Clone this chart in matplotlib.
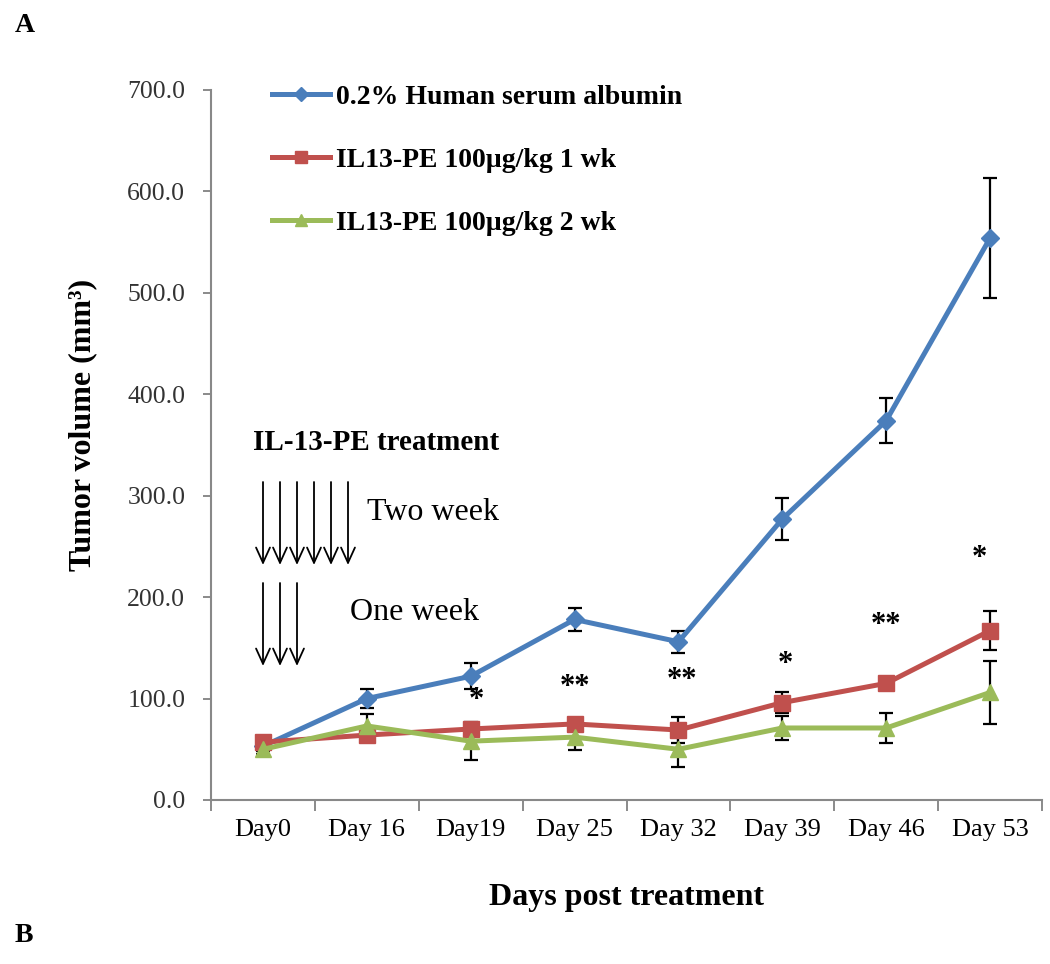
import matplotlib
matplotlib.use("Agg")
import matplotlib.pyplot as plt
import numpy as np

plt.rcParams['font.family'] = ['Liberation Serif', 'DejaVu Serif']

categories = ["Day0", "Day 16", "Day19", "Day 25", "Day 32", "Day 39", "Day 46", "Day 53"]
yticks = [0, 100, 200, 300, 400, 500, 600, 700]

hsa_mean = [53, 100, 122, 178, 156, 277, 374, 554]
hsa_err = [5, 9, 13, 11, 11, 21, 22, 59]
wk1_mean = [57, 64, 70, 75, 69, 96, 115, 167]
wk1_err = [5, 5, 5, 5, 13, 10, 5, 19]
wk2_mean = [50, 73, 58, 62, 50, 71, 71, 106]
wk2_err = [5, 12, 19, 13, 17, 12, 15, 31]

series_labels = ["0.2% Human serum albumin", "IL13-PE 100\u00b5g/kg 1 wk", "IL13-PE 100\u00b5g/kg 2 wk"]
colors = ["#4A7EBB", "#C0504D", "#9BBB59"]
markers = ["D", "s", "^"]

sig_labels = ["", "", "*", "**", "**", "*", "**", "*"]
sig_y = [0, 0, 98, 111, 118, 134, 172, 238]
sig_dx = [0, 0, 0.05, 0.0, 0.03, 0.03, 0.0, -0.1]

fig = plt.figure(figsize=(10.5, 9.64), dpi=100)
ax = fig.add_axes([211/1050, 1-800/964, 831/1050, 710/964])

x = np.arange(len(categories))
for means, errs, c, m, lab, ms in zip([hsa_mean, wk1_mean, wk2_mean],
                                      [hsa_err, wk1_err, wk2_err],
                                      colors, markers, series_labels, [9, 11, 11]):
    ax.errorbar(x, means, yerr=errs, fmt='none', ecolor='black', elinewidth=1.6,
                capsize=5, capthick=1.6, zorder=2)
    ax.plot(x, means, color=c, lw=3.6, marker=m, markersize=ms, label=lab, zorder=3)

for i, (s, yv, dx) in enumerate(zip(sig_labels, sig_y, sig_dx)):
    if s:
        ax.text(i + dx, yv, s, ha='center', va='center', fontsize=22, fontweight='bold')

ax.set_xlim(-0.5, len(categories) - 0.5)
ax.set_ylim(0, 700)
ax.set_yticks(yticks)
ax.set_yticklabels([f"{v:.1f}" for v in yticks], fontsize=18.5, color='#333333')
ax.set_xticks(x)
ax.set_xticklabels(categories, fontsize=19)
ax.set_xticks(np.arange(len(categories) + 1) - 0.5, minor=True)
ax.tick_params(axis='x', which='major', length=0, pad=14)
ax.tick_params(axis='x', which='minor', length=8, color='#777777', width=1.2)
ax.tick_params(axis='y', which='major', length=6, color='#777777', width=1.2, pad=12.5)

for sp in ['top', 'right']:
    ax.spines[sp].set_visible(False)
for sp in ['left', 'bottom']:
    ax.spines[sp].set_color('#888888')
    ax.spines[sp].set_linewidth(1.5)

ax.set_ylabel("Tumor volume (mm\u00b3)", fontsize=23, fontweight='bold')
ax.yaxis.set_label_coords(-(211 - 97) / 831, (800 - 425) / 710)
ax.set_xlabel("Days post treatment", fontsize=23, fontweight='bold', labelpad=30)

leg = ax.legend(loc='upper left', bbox_to_anchor=(36/831, 1.043), frameon=False,
                prop={'size': 20, 'weight': 'bold'}, handlelength=2.1,
                handletextpad=0.2, labelspacing=1.35, markerscale=0.75)

# treatment annotation
def ax_x(px):
    return (px - 211) / 831

def ax_y(py):
    return (800 - py) / 710

ax.text(ax_x(253), ax_y(443), "IL-13-PE treatment", transform=ax.transAxes,
        fontsize=21, fontweight='bold', ha='left', va='center')
for k in range(6):
    xp = ax_x(263 + 17 * k)
    ax.annotate("", xy=(xp, ax_y(565)), xytext=(xp, ax_y(482)),
                xycoords='axes fraction', textcoords='axes fraction',
                arrowprops=dict(arrowstyle='->,head_length=1.1,head_width=0.5', lw=1.3, color='black',
                                shrinkA=0, shrinkB=0))
for k in range(3):
    xp = ax_x(263 + 17 * k)
    ax.annotate("", xy=(xp, ax_y(666)), xytext=(xp, ax_y(583)),
                xycoords='axes fraction', textcoords='axes fraction',
                arrowprops=dict(arrowstyle='->,head_length=1.1,head_width=0.5', lw=1.3, color='black',
                                shrinkA=0, shrinkB=0))
ax.text(ax_x(367), ax_y(512), "Two week", transform=ax.transAxes, fontsize=23,
        ha='left', va='center')
ax.text(ax_x(350), ax_y(613), "One week", transform=ax.transAxes, fontsize=23,
        ha='left', va='center')

fig.text(15/1050, 1-25/964, "A", fontsize=20, fontweight='bold', ha='left', va='center')
fig.text(15/1050, 1-935/964, "B", fontsize=20, fontweight='bold', ha='left', va='center')

fig.savefig("out.png", dpi=100, facecolor='white')
